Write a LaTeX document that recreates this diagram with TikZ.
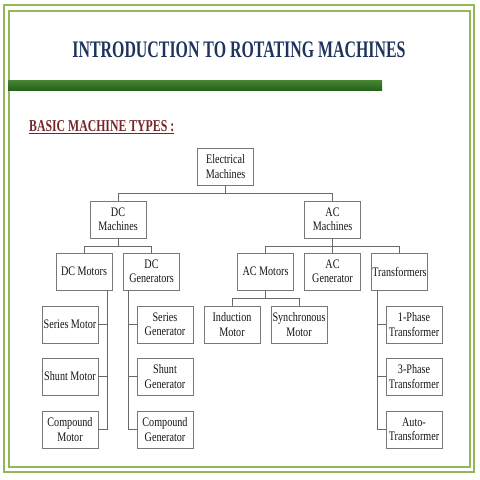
\documentclass[tikz,border=0pt]{standalone}
\usepackage{fontspec}
\usepackage{xcolor}
\usepackage{tikz}
\usetikzlibrary{shapes,positioning,calc}
\newfontfamily\titlefont{Liberation Serif}[FakeStretch=0.67]
\newfontfamily\headfont{Liberation Serif}[FakeStretch=0.71]
\newfontfamily\boxfont{Liberation Serif}[FakeStretch=0.78]
\definecolor{framegreen}{RGB}{150,182,92}
\definecolor{barlight}{RGB}{112,172,88}
\definecolor{bartop}{RGB}{72,134,52}
\definecolor{bardark}{RGB}{38,98,28}
\definecolor{titleblue}{RGB}{30,52,92}
\definecolor{headred}{RGB}{118,38,38}
\definecolor{boxgray}{RGB}{120,120,120}
\definecolor{linegray}{RGB}{105,105,105}
\tikzset{
  mbox/.style={draw=boxgray, line width=0.9pt, minimum width=56pt, minimum height=37pt,
    inner sep=0pt, align=center, text=black!92, font=\boxfont\fontsize{13}{14.2}\selectfont},
  link/.style={draw=linegray, line width=0.9pt}
}
\begin{document}
\begin{tikzpicture}[x=1pt,y=-1pt]
\useasboundingbox (0,0) rectangle (480,480);
% frame
\draw[framegreen, line width=2.6pt] (4,5) rectangle (474,472);
\draw[framegreen, line width=2pt] (8.5,10.5) rectangle (469.5,467);
\shade[top color=bartop, middle color=barlight, bottom color=bardark] (8,80) rectangle (382,90);
\node[text=titleblue, font=\titlefont\bfseries\fontsize{23.7}{28}\selectfont] (title) at (239,50) {INTRODUCTION TO ROTATING MACHINES};
\node[anchor=west, inner sep=0pt, text=headred, font=\headfont\bfseries\fontsize{16.6}{20}\selectfont] (head) at (29,127) {\underline{BASIC MACHINE TYPES :}};
% tree
\node[mbox] (elec) at (225.5,166.5) {Electrical\\Machines};
\node[mbox] (dcm) at (118,219.5) {DC\\Machines};
\node[mbox] (acm) at (332.5,219.5) {AC\\Machines};
\node[mbox] (dcmot) at (84,271.5) {DC Motors};
\node[mbox] (dcgen) at (151.5,271.5) {DC\\Generators};
\node[mbox] (acmot) at (265.5,271.5) {AC Motors};
\node[mbox] (acgen) at (332.5,271.5) {AC\\Generator};
\node[mbox] (trans) at (399.5,271.5) {Transformers};
\node[mbox] (smot) at (70,324.5) {Series Motor};
\node[mbox] (shmot) at (70,376.5) {Shunt Motor};
\node[mbox] (cmot) at (70,429.5) {Compound\\Motor};
\node[mbox] (sgen) at (165,324.5) {Series\\Generator};
\node[mbox] (shgen) at (165,376.5) {Shunt\\Generator};
\node[mbox] (cgen) at (165,429.5) {Compound\\Generator};
\node[mbox] (ind) at (232,324.5) {Induction\\Motor};
\node[mbox] (syn) at (299,324.5) {Synchronous\\Motor};
\node[mbox] (ph1) at (414,324.5) {1-Phase\\Transformer};
\node[mbox] (ph3) at (414,376.5) {3-Phase\\Transformer};
\node[mbox] (auto) at (414,429.5) {Auto-\\Transformer};
% connectors
\foreach \c in {dcm,acm}
  \draw[link] (elec.south) -- ++(0,8) -| (\c.north);
\foreach \c in {dcmot,dcgen}
  \draw[link] (dcm.south) -- ++(0,8) -| (\c.north);
\foreach \c in {acmot,acgen,trans}
  \draw[link] (acm.south) -- ++(0,8) -| (\c.north);
\foreach \c in {ind,syn}
  \draw[link] (acmot.south) -- ++(0,8) -| (\c.north);
\foreach \c in {smot,shmot,cmot}
  \draw[link] ($(dcmot.south east)+(-5,0)$) |- (\c.east);
\foreach \c in {sgen,shgen,cgen}
  \draw[link] ($(dcgen.south west)+(5,0)$) |- (\c.west);
\foreach \c in {ph1,ph3,auto}
  \draw[link] ($(trans.south west)+(6,0)$) |- (\c.west);
\end{tikzpicture}
\end{document}
